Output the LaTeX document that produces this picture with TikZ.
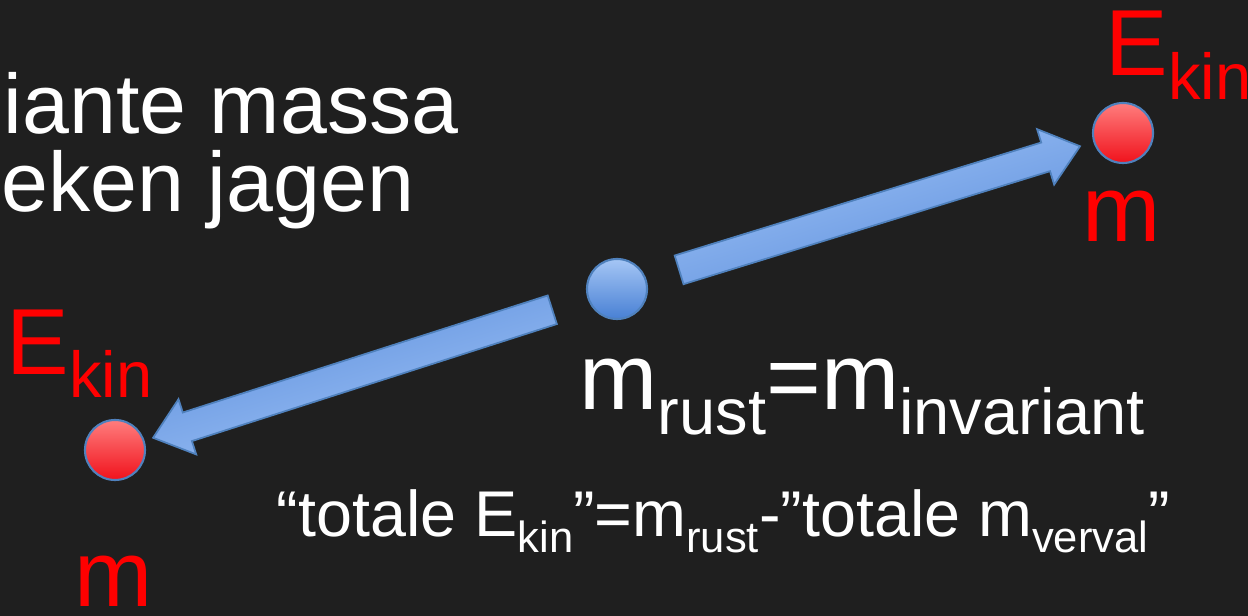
\documentclass[tikz,border=0pt]{standalone}
\usepackage{fontspec}
\setmainfont{Liberation Sans}
\usepackage{xcolor}
\usetikzlibrary{calc}

\definecolor{board}{RGB}{31,31,31}
\definecolor{balledge}{RGB}{79,129,189}
\definecolor{restlight}{RGB}{165,198,245}
\definecolor{restdark}{RGB}{72,128,212}
\definecolor{partlight}{RGB}{255,125,125}
\definecolor{partdark}{RGB}{240,18,28}
\definecolor{arrowlight}{RGB}{160,196,247}
\definecolor{arrowdark}{RGB}{92,142,220}

% lowered subscript: drop, size, text
\newcommand{\lowsub}[3]{\raisebox{-#1}{\fontsize{#2}{#2}\selectfont #3}}
% block arrow from coordinate #1 to coordinate #2
\newcommand{\blockarrow}[3]{%
  \coordinate (neck) at ($(#2)!0.36cm!(#1)$);
  \path[arrowbody,shading angle=#3] ($(#1)!0.15cm!90:(#2)$) -- ($(neck)!0.15cm!90:(#2)$) -- ($(neck)!0.29cm!90:(#2)$) -- (#2)
    -- ($(neck)!0.29cm!-90:(#2)$) -- ($(neck)!0.15cm!-90:(#2)$) -- ($(#1)!0.15cm!-90:(#2)$) -- cycle;}

\begin{document}
\begin{tikzpicture}[ball/.style={circle,minimum size=0.6cm,inner sep=0pt,draw=balledge,line width=0.6pt},restball/.style={ball,top color=restlight,bottom color=restdark},partball/.style={ball,top color=partlight,bottom color=partdark},arrowbody/.style={draw=balledge,line width=0.5pt,top color=arrowlight,bottom color=arrowdark},title/.style={anchor=base west,inner sep=0pt,text=white,font=\fontsize{24}{28}\selectfont},big/.style={anchor=base west,inner sep=0pt,font=\fontsize{26.7}{30}\selectfont},small/.style={anchor=base west,inner sep=0pt,text=white,font=\fontsize{18.4}{22}\selectfont}]
\fill[board] (0,0) rectangle (12.48,-6.16);
\useasboundingbox (0,0) rectangle (12.48,-6.16);
\node[title] (line1) at (0.03,-1.34) {iante massa};
\node[title] (line2) at (0.01,-2.12) {eken jagen};
\node[restball] (rest) at (6.17,-2.89) {};
\node[partball] (partR) at (11.23,-1.33) {};
\node[partball] (partL) at (1.15,-4.50) {};
\node[big,text=red] (ekinR) at (11.05,-0.76) {E\lowsub{0.24cm}{18.5}{kin}};
\node[big,text=red] (massR) at (10.82,-2.42) {m};
\node[big,text=red] (ekinL) at (0.06,-3.75) {E\lowsub{0.23cm}{18.5}{kin}};
\node[big,text=red] (massL) at (0.74,-6.07) {m};
\node[big,text=white] (inv) at (5.79,-4.10) {m\lowsub{0.25cm}{18.5}{rust}=m\lowsub{0.25cm}{18.5}{invariant}};
\node[small] (totals) at (2.76,-5.37) {“totale E\lowsub{0.16cm}{12.4}{kin}”=m\lowsub{0.16cm}{12.4}{rust}-”totale m\lowsub{0.16cm}{12.4}{verval}”};
\coordinate (tailR) at ($(rest)!0.65cm!(partR)$);
\coordinate (tipR) at ($(partR)!0.45cm!(rest)$);
\coordinate (tailL) at ($(rest)!0.68cm!(partL)$);
\coordinate (tipL) at ($(partL)!0.40cm!(rest)$);
\blockarrow{tailR}{tipR}{17}
\blockarrow{tailL}{tipL}{197}
\end{tikzpicture}
\end{document}
